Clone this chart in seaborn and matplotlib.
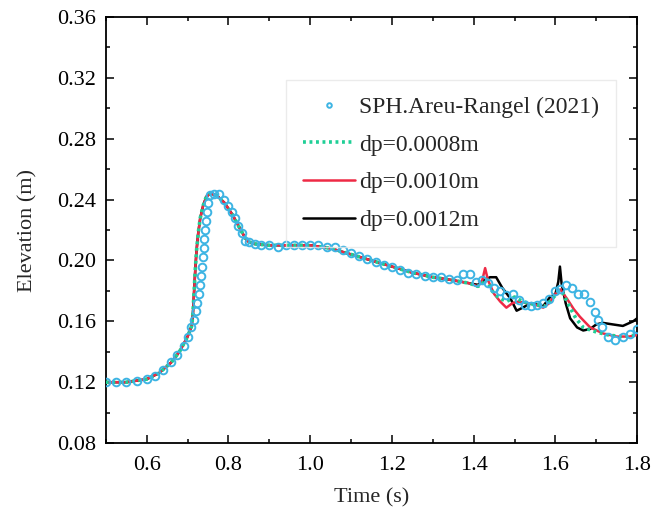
import matplotlib
matplotlib.use("Agg")
import matplotlib.pyplot as plt
import seaborn as sns
from matplotlib.ticker import MultipleLocator

# SPH reference data (Areu-Rangel, 2021)
ref_t = [0.500, 0.525, 0.550, 0.575, 0.600, 0.620, 0.640, 0.660, 0.675, 0.690,
         0.700, 0.708, 0.715, 0.720, 0.724, 0.727, 0.730, 0.733, 0.735, 0.737,
         0.739, 0.741, 0.743, 0.745, 0.748, 0.751, 0.756, 0.765, 0.778, 0.790,
         0.800, 0.808, 0.816, 0.824, 0.832, 0.840, 0.850, 0.865, 0.880, 0.900,
         0.920, 0.940, 0.960, 0.980, 1.000, 1.020, 1.040, 1.060, 1.080, 1.100,
         1.120, 1.140, 1.160, 1.180, 1.200, 1.220, 1.240, 1.260, 1.280, 1.300,
         1.320, 1.340, 1.360, 1.375, 1.390, 1.405, 1.420, 1.435, 1.450, 1.465,
         1.480, 1.495, 1.510, 1.525, 1.540, 1.555, 1.570, 1.585, 1.600, 1.612,
         1.625, 1.640, 1.655, 1.670, 1.685, 1.697, 1.705, 1.714, 1.728, 1.746,
         1.765, 1.782, 1.800]
ref_h = [0.120, 0.120, 0.120, 0.121, 0.122, 0.124, 0.128, 0.133, 0.138, 0.144,
         0.150, 0.156, 0.161, 0.167, 0.172, 0.178, 0.184, 0.190, 0.196, 0.202,
         0.208, 0.214, 0.220, 0.226, 0.232, 0.238, 0.243, 0.244, 0.244, 0.240,
         0.236, 0.232, 0.228, 0.223, 0.218, 0.213, 0.212, 0.211, 0.210, 0.210,
         0.209, 0.210, 0.210, 0.210, 0.210, 0.210, 0.209, 0.209, 0.207, 0.205,
         0.203, 0.201, 0.199, 0.197, 0.196, 0.194, 0.192, 0.191, 0.190, 0.189,
         0.189, 0.188, 0.187, 0.191, 0.191, 0.186, 0.187, 0.185, 0.182, 0.180,
         0.177, 0.178, 0.174, 0.171, 0.170, 0.171, 0.172, 0.175, 0.180, 0.181,
         0.184, 0.182, 0.178, 0.178, 0.173, 0.166, 0.161, 0.156, 0.150, 0.148,
         0.150, 0.152, 0.155]

# the three simulations overlap up to t ~ 1.39 s
early_t = [0.50, 0.55, 0.60, 0.63, 0.66, 0.68, 0.70, 0.710, 0.713, 0.716,
           0.719, 0.722, 0.726, 0.731, 0.738, 0.746, 0.755, 0.770, 0.790, 0.810,
           0.830, 0.845, 0.860, 0.900, 0.950, 1.000, 1.050, 1.100, 1.150, 1.200,
           1.250, 1.300, 1.350, 1.390]
early_h = [0.120, 0.120, 0.122, 0.126, 0.133, 0.140, 0.150, 0.157, 0.165, 0.180,
           0.195, 0.207, 0.218, 0.228, 0.236, 0.242, 0.244, 0.243, 0.238, 0.230,
           0.220, 0.213, 0.211, 0.210, 0.210, 0.210, 0.208, 0.204, 0.200, 0.196,
           0.192, 0.189, 0.187, 0.185]

dp08_t = early_t + [1.41, 1.42, 1.43, 1.445, 1.46, 1.48, 1.50, 1.52, 1.55, 1.575,
                    1.59, 1.605, 1.615, 1.636, 1.65, 1.668, 1.70, 1.73, 1.76, 1.80]
dp08_h = early_h + [0.183, 0.184, 0.188, 0.180, 0.176, 0.173, 0.176, 0.173, 0.171, 0.170,
                    0.174, 0.179, 0.180, 0.169, 0.162, 0.156, 0.153, 0.151, 0.150, 0.151]

dp10_t = early_t + [1.410, 1.420, 1.428, 1.435, 1.450, 1.465, 1.480, 1.495, 1.510, 1.530,
                    1.550, 1.570, 1.585, 1.600, 1.612, 1.628, 1.645, 1.660, 1.685, 1.717,
                    1.750, 1.780, 1.800]
dp10_h = early_h + [0.183, 0.186, 0.195, 0.187, 0.178, 0.173, 0.169, 0.172, 0.173, 0.172,
                    0.171, 0.169, 0.172, 0.178, 0.181, 0.175, 0.168, 0.163, 0.156, 0.152,
                    0.150, 0.150, 0.151]

dp12_t = early_t + [1.410, 1.425, 1.440, 1.455, 1.470, 1.490, 1.505, 1.520, 1.540, 1.570,
                    1.587, 1.600, 1.607, 1.611, 1.615, 1.625, 1.636, 1.653, 1.668, 1.685,
                    1.700, 1.716, 1.740, 1.765, 1.790, 1.800]
dp12_h = early_h + [0.184, 0.187, 0.189, 0.189, 0.182, 0.175, 0.167, 0.169, 0.172, 0.170,
                    0.176, 0.178, 0.186, 0.196, 0.185, 0.172, 0.162, 0.156, 0.154, 0.155,
                    0.158, 0.159, 0.158, 0.157, 0.160, 0.162]

sns.set_style("ticks")
plt.rcParams['font.family'] = ['Liberation Serif', 'DejaVu Serif']

fig = plt.figure(figsize=(6.7, 5.17), dpi=100)
ax = fig.add_axes([0.158, 0.143, 0.793, 0.824])

sns.lineplot(x=ref_t, y=ref_h, ax=ax, sort=False, estimator=None,
             linestyle='none', marker='o', markersize=5.5, markerfacecolor='none',
             markeredgecolor='#3db4e3', markeredgewidth=1.4, color='#3db4e3',
             label='SPH.Areu-Rangel (2021)', zorder=5)
sns.lineplot(x=dp08_t, y=dp08_h, ax=ax, sort=False, estimator=None,
             color='#1fcf96', linewidth=2.6, linestyle=(0, (0.8, 1.0)),
             label='dp=0.0008m', zorder=4)
sns.lineplot(x=dp10_t, y=dp10_h, ax=ax, sort=False, estimator=None,
             color='#ee2a45', linewidth=1.8, label='dp=0.0010m', zorder=3)
sns.lineplot(x=dp12_t, y=dp12_h, ax=ax, sort=False, estimator=None,
             color='black', linewidth=1.8, label='dp=0.0012m', zorder=2)

ax.set_xlim(0.5, 1.8)
ax.set_ylim(0.08, 0.36)
ax.xaxis.set_minor_locator(MultipleLocator(0.1))
ax.yaxis.set_minor_locator(MultipleLocator(0.02))
ax.set_xticks([0.6, 0.8, 1.0, 1.2, 1.4, 1.6, 1.8])
ax.set_xticklabels(['0.6', '0.8', '1.0', '1.2', '1.4', '1.6', '1.8'])
ax.set_yticks([0.08, 0.12, 0.16, 0.20, 0.24, 0.28, 0.32, 0.36])
ax.set_yticklabels(['0.08', '0.12', '0.16', '0.20', '0.24', '0.28', '0.32', '0.36'])

ax.tick_params(which='both', direction='in', top=True, right=True,
               colors='black', labelsize=16, width=1.1)
ax.tick_params(which='major', length=6, pad=7)
ax.tick_params(axis='x', which='major', pad=9)
ax.tick_params(which='minor', length=3)
for side in ax.spines.values():
    side.set_color('black')
    side.set_linewidth(1.3)

ax.set_xlabel('Time (s)', fontsize=16, labelpad=10)
ax.set_ylabel('Elevation (m)', fontsize=16, labelpad=14)

leg = ax.legend(loc='upper right', bbox_to_anchor=(0.96, 0.852), fontsize=17,
                frameon=True, fancybox=False, edgecolor='#e6e6e6',
                facecolor='none', framealpha=None,
                handlelength=2.2, handletextpad=0.2, labelspacing=0.68,
                borderpad=0.7, borderaxespad=0, markerscale=0.6)
leg.get_frame().set_linewidth(1.0)

fig.savefig('out.png', dpi=100)
